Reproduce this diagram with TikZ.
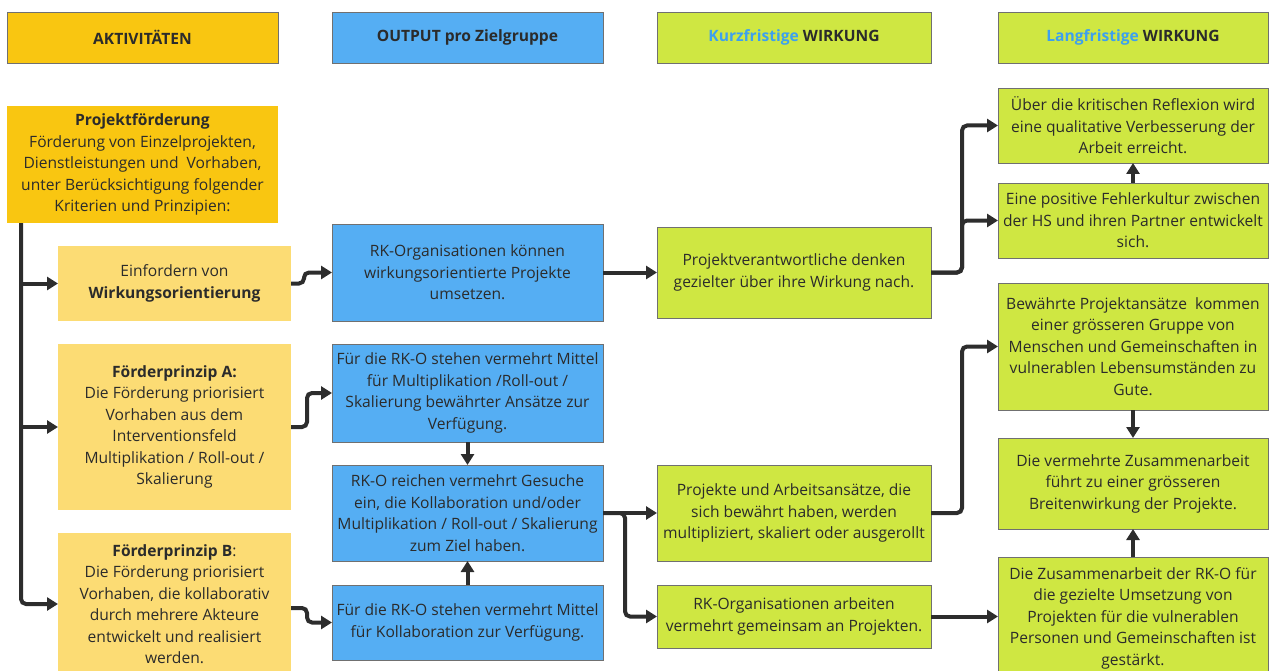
\documentclass[tikz,border=0pt]{standalone}
\usepackage{fontspec}
\setmainfont{Open Sans}
\usetikzlibrary{arrows.meta}
\definecolor{hyel}{HTML}{F9C611}
\definecolor{lyel}{HTML}{FCDC74}
\definecolor{cblue}{HTML}{55AEF3}
\definecolor{cgreen}{HTML}{CFE742}
\definecolor{cbord}{HTML}{707070}
\definecolor{ctext}{HTML}{2B2B2B}
\definecolor{cline}{HTML}{2D2D2D}
\definecolor{tblue}{HTML}{3DA0EE}
\begin{document}
\begin{tikzpicture}[x=1pt,y=-1pt,
  every node/.style={font=\fontsize{15.6}{21.5}\selectfont, text=ctext, align=center, inner sep=0pt, outer sep=0pt},
  hdr/.style={draw=cbord, line width=0.8pt, font=\fontsize{15.6}{21.5}\selectfont\bfseries, minimum height=51pt},
  ybox/.style={fill=hyel},
  lbox/.style={fill=lyel, minimum width=233pt},
  bbox/.style={fill=cblue, draw=cbord, line width=0.8pt, minimum width=271pt},
  gbox/.style={fill=cgreen, draw=cbord, line width=0.8pt, minimum width=274pt},
  lgbox/.style={fill=cgreen, draw=cbord, line width=0.8pt, minimum width=270pt},
  conn/.style={line width=4pt, draw=cline, rounded corners=5pt, -{Triangle[length=11pt,width=13pt]}},
]
\useasboundingbox (0,0) rectangle (1271,671);
% headers
\node[hdr, fill=hyel, minimum width=271pt] (h1) at (142.5,37.5) {\raisebox{-1pt}{AKTIVITÄTEN}};
\node[hdr, fill=cblue, minimum width=271pt] (h2) at (467.5,37.5) {\raisebox{-1pt}{OUTPUT pro Zielgruppe}};
\node[hdr, fill=cgreen, minimum width=274pt] (h3) at (794,37.5) {\raisebox{-1pt}{{\color{tblue}Kurzfristige} WIRKUNG}};
\node[hdr, fill=cgreen, minimum width=270pt] (h4) at (1133,37.5) {\raisebox{-1pt}{{\color{tblue}Langfristige} WIRKUNG}};
% activities
\node[ybox, minimum width=271pt, minimum height=117pt] (pf) at (142.5,164.5) {\textbf{Projektförderung}\\Förderung von Einzelprojekten,\\Dienstleistungen und~ Vorhaben,\\unter Berücksichtigung folgender\\Kriterien und Prinzipien:};
\node[lbox, minimum height=75pt] (ew) at (174.5,283.5) {Einfordern von\\\textbf{Wirkungsorientierung}};
\node[lbox, minimum height=166pt] (fa) at (174.5,427) {\textbf{Förderprinzip A:}\\Die Förderung priorisiert\\Vorhaben aus dem\\Interventionsfeld\\Multiplikation / Roll-out /\\Skalierung};
\node[lbox, minimum height=142pt] (fb) at (174.5,604) {\textbf{Förderprinzip B}:\\Die Förderung priorisiert\\Vorhaben, die kollaborativ\\durch mehrere Akteure\\entwickelt und realisiert\\werden.};
% outputs
\node[bbox, minimum height=97pt] (b1) at (467.5,272.5) {RK-Organisationen können\\wirkungsorientierte Projekte\\umsetzen.};
\node[bbox, minimum height=98pt] (b2) at (467.5,393) {Für die RK-O stehen vermehrt Mittel\\für Multiplikation /Roll-out /\\Skalierung bewährter Ansätze zur\\Verfügung.};
\node[bbox, minimum height=96pt] (b3) at (467.5,513) {RK-O reichen vermehrt Gesuche\\ein, die Kollaboration und/oder\\Multiplikation / Roll-out / Skalierung\\zum Ziel haben.};
\node[bbox, minimum height=75pt] (b4) at (467.5,622.5) {Für die RK-O stehen vermehrt Mittel\\für Kollaboration zur Verfügung.};
% short term
\node[gbox, minimum height=91pt] (k1) at (794,272.5) {Projektverantwortliche denken\\gezielter über ihre Wirkung nach.};
\node[gbox, minimum height=96pt] (k2) at (794,513) {Projekte und Arbeitsansätze, die\\sich bewährt haben, werden\\multipliziert, skaliert oder ausgerollt};
\node[gbox, minimum height=63pt] (k3) at (794,616.5) {RK-Organisationen arbeiten\\vermehrt gemeinsam an Projekten.};
% long term
\node[lgbox, minimum height=75pt] (l1) at (1133,125.5) {Über die kritischen Reflexion wird\\eine qualitative Verbesserung der\\Arbeit erreicht.};
\node[lgbox, minimum height=75pt] (l2) at (1133,220.5) {Eine positive Fehlerkultur zwischen\\der HS und ihren Partner entwickelt\\sich.};
\node[lgbox, minimum height=127pt] (l3) at (1133,346.5) {Bewährte Projektansätze~ kommen\\einer grösseren Gruppe von\\Menschen und Gemeinschaften in\\vulnerablen Lebensumständen zu\\Gute.};
\node[lgbox, minimum height=91pt] (l4) at (1133,483.5) {Die vermehrte Zusammenarbeit\\führt zu einer grösseren\\Breitenwirkung der Projekte.};
\node[lgbox, minimum height=122pt] (l5) at (1133,618) {Die Zusammenarbeit der RK-O für\\die gezielte Umsetzung von\\Projekten für die vulnerablen\\Personen und Gemeinschaften ist\\gestärkt.};
% connectors
\coordinate (tr) at ([xshift=14pt]pf.south west);
\draw[conn] (tr) |- (fb.west);
\draw[conn] (tr |- ew.west) -- (ew.west);
\draw[conn] (tr |- fa.west) -- (fa.west);
\draw[conn] (ew.east) -- ++(13,0) |- (b1.west);
\draw[conn] (fa.east) -- ++(16,0) |- (b2.west);
\draw[conn] ([yshift=-4pt]fb.east) -- ++(16,0) |- (b4.west);
\draw[conn] (b1.east) -- (k1.west);
\draw[conn] (b2.south) -- (b3.north);
\draw[conn] (b4.north) -- (b3.south);
\draw[conn] (b3.east) -- (k2.west);
\draw[conn] (b3.east) -- ++(22,0) |- (k3.west);
\draw[conn] (k1.east) -- ++(31,0) |- (l1.west);
\draw[conn] (k1.east) -- ++(31,0) |- (l2.west);
\draw[conn] (l2.north) -- (l1.south);
\draw[conn] (k2.east) -- ++(31,0) |- (l3.west);
\draw[conn] (l3.south) -- (l4.north);
\draw[conn] (l5.north) -- (l4.south);
\draw[conn] (k3.east) -- (k3.east -| l5.west);
\end{tikzpicture}
\end{document}
